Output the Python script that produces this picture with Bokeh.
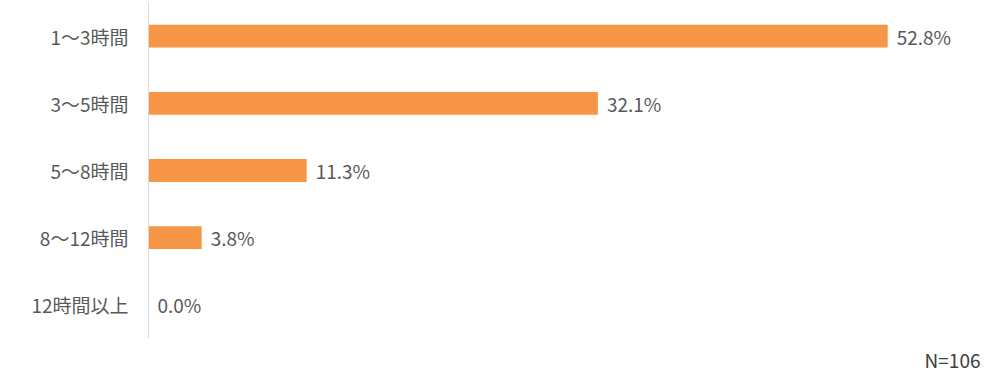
from bokeh.plotting import figure
from bokeh.models import ColumnDataSource, Title, FactorRange
from bokeh.core.properties import value
from bokeh.embed import file_html
from bokeh.resources import INLINE

categories = ["1～3時間", "3～5時間", "5～8時間", "8～12時間", "12時間以上"]
values = [52.8, 32.1, 11.3, 3.8, 0.0]
labels = [f"{v:.1f}%" for v in values]
note = "N=106"

FONT = "Noto Sans CJK JP"
TEXT_COLOR = "#595959"

src = ColumnDataSource(dict(cat=categories, val=values, lab=labels))

p = figure(width=997, height=377, output_backend="svg", toolbar_location=None,
           y_range=FactorRange(*reversed(categories), range_padding=0),
           x_range=(0, 59.43),
           min_border_left=148, min_border_right=17, min_border_top=2, min_border_bottom=6)

p.hbar(y="cat", right="val", left=0, height=0.34, source=src,
       fill_color="#F79646", line_color=None)

p.text(x="val", y="cat", text="lab", source=src, x_offset=9,
       text_baseline="middle", text_align="left",
       text_font=value(FONT), text_font_size="19px", text_color=TEXT_COLOR)

p.xaxis.visible = False
p.xgrid.visible = False
p.ygrid.visible = False
p.outline_line_color = None

ya = p.yaxis[0]
ya.axis_line_color = "#D9D9D9"
ya.axis_line_width = 1
ya.major_tick_line_color = None
ya.minor_tick_line_color = None
ya.major_label_standoff = 14
ya.major_label_text_font = FONT
ya.major_label_text_font_size = "19px"
ya.major_label_text_color = TEXT_COLOR

t = Title(text=note, align="right", text_font=FONT, text_font_size="19px",
          text_font_style="normal", text_color="#404040")
p.add_layout(t, "below")

open("out.html", "w").write(file_html(p, INLINE))
